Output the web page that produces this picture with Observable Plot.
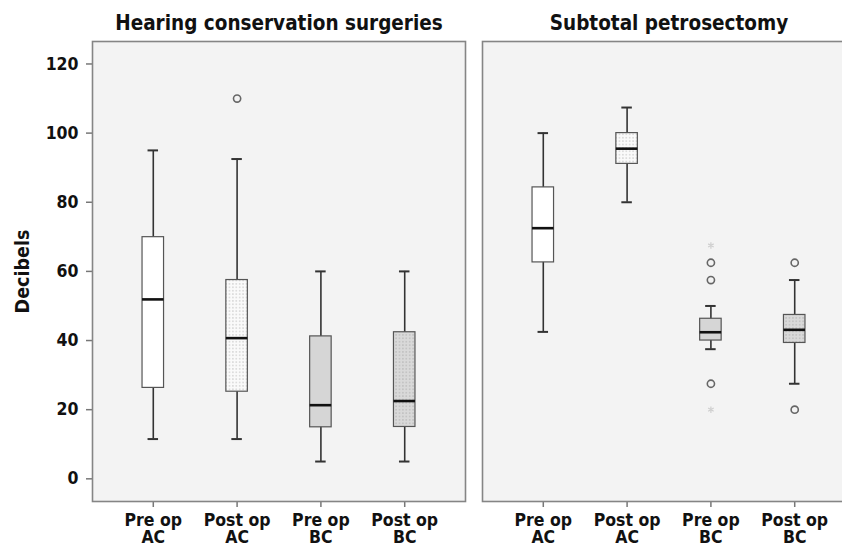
<!DOCTYPE html>
<html>
<head>
<meta charset="utf-8">
<script src="https://cdn.jsdelivr.net/npm/d3@7"></script>
<script src="https://cdn.jsdelivr.net/npm/@observablehq/plot@0.6"></script>
<style>
  html, body { margin: 0; padding: 0; background: #ffffff; overflow: hidden; }
  #wrap { width: 842px; height: 547px; overflow: hidden; }
  #wrap svg { max-width: none !important; }
</style>
</head>
<body>
<div id="wrap"></div>
<script>
// ---- data ----
const groups = ["Hearing conservation surgeries", "Subtotal petrosectomy"];
const categories = ["Pre op AC", "Post op AC", "Pre op BC", "Post op BC"];
// per group: values for each category (in order above)
const whiskerLow  = [[11.5, 11.5, 5, 5],        [42.5, 80, 37.5, 27.5]];
const quartile1   = [[26.3, 25.2, 14.9, 15],    [62.6, 91.1, 40, 39.3]];
const medians     = [[51.9, 40.7, 21.3, 22.5],  [72.5, 95.5, 42.4, 43.1]];
const quartile3   = [[69.9, 57.5, 41.2, 42.4],  [84.3, 100, 46.3, 47.4]];
const whiskerHigh = [[95, 92.5, 60, 60],        [100, 107.4, 50, 57.5]];
// outliers
const outlierGroup    = [0, 1, 1, 1, 1, 1, 1, 1];
const outlierCategory = [1, 2, 2, 2, 2, 2, 3, 3];
const outlierValue    = [110, 67.5, 62.5, 57.5, 27.5, 20, 62.5, 20];
const outlierKind     = ["circle", "star", "circle", "circle", "circle", "star", "circle", "circle"];
const yTicks = [0, 20, 40, 60, 80, 100, 120];
const yLabel = "Decibels";

// ---- build tables ----
const rows = [];
groups.forEach((g, gi) => categories.forEach((c, ci) => rows.push({
  group: g, category: c,
  lo: whiskerLow[gi][ci], q1: quartile1[gi][ci], med: medians[gi][ci],
  q3: quartile3[gi][ci], hi: whiskerHigh[gi][ci]
})));
const outliers = outlierValue.map((v, i) => ({
  group: groups[outlierGroup[i]], category: categories[outlierCategory[i]],
  value: v, kind: outlierKind[i]
}));

const boxFill = {
  "Pre op AC": "#ffffff",
  "Post op AC": "url(#dotsLight)",
  "Pre op BC": "#d6d6d6",
  "Post op BC": "url(#dotsGray)"
};

const font = "'DejaVu Sans Condensed', 'DejaVu Sans', sans-serif";

const boxMarks = categories.map(c => Plot.barY(rows.filter(d => d.category === c), {
  x: "category", y1: "q1", y2: "q3", fx: "group",
  fill: boxFill[c], stroke: "#555", strokeWidth: 1.2
}));

const plot = Plot.plot({
  width: 856,
  height: 547,
  marginLeft: 92,
  marginRight: 1,
  marginTop: 41,
  marginBottom: 46,
  style: { fontFamily: font, fontWeight: "bold", fontStretch: "condensed", color: "#111", background: "transparent", maxWidth: "none" },
  fx: { domain: groups, paddingInner: 17 / 390, paddingOuter: 0, label: null },
  x: { domain: categories, type: "band", paddingInner: 0.7434, paddingOuter: 0.597, round: false, label: null },
  y: { domain: [-6.56, 126.5], label: null },
  marks: [
    Plot.frame({ fill: "#f3f3f3" }),
    Plot.axisFx({ anchor: "top", tickSize: 0, tickPadding: 12, fontSize: 20.5, label: null }),
    Plot.axisY({ ticks: yTicks, tickSize: 6, tickPadding: 8, fontSize: 17.5, stroke: "#777", strokeWidth: 1.5, label: null }),
    Plot.axisX({ tickSize: 6, tickPadding: 6.3, fontSize: 17.5, lineHeight: 0.99, stroke: "#777", strokeWidth: 1.5, label: null,
                 tickFormat: d => d.replace(/ (AC|BC)$/, "\n$1") }),
    Plot.text([yLabel], { fx: [groups[0]], text: d => d, frameAnchor: "left", textAnchor: "middle", dx: -70, rotate: -90,
                          fontSize: 19.5, fontWeight: "bold", fill: "#111" }),
    Plot.ruleX(rows, { x: "category", y1: "lo", y2: "hi", fx: "group", stroke: "#333", strokeWidth: 1.6 }),
    Plot.tickY(rows, { x: "category", y: "lo", fx: "group", insetLeft: 5.5, insetRight: 5.5, stroke: "#333", strokeWidth: 2 }),
    Plot.tickY(rows, { x: "category", y: "hi", fx: "group", insetLeft: 5.5, insetRight: 5.5, stroke: "#333", strokeWidth: 2 }),
    ...boxMarks,
    Plot.tickY(rows, { x: "category", y: "med", fx: "group", stroke: "#111", strokeWidth: 2.6 }),
    Plot.dot(outliers.filter(d => d.kind === "circle"), { x: "category", y: "value", fx: "group", r: 3.6, stroke: "#666", strokeWidth: 1.6, fill: "none" }),
    Plot.dot(outliers.filter(d => d.kind === "star"), { x: "category", y: "value", fx: "group", symbol: "asterisk", r: 3, stroke: "#cfcfcf", strokeWidth: 1.2 }),
    Plot.frame({ stroke: "#858585", strokeWidth: 1.6 })
  ]
});

// patterns for the dotted boxes
const ns = "http://www.w3.org/2000/svg";
const defs = document.createElementNS(ns, "defs");
defs.innerHTML = `
  <pattern id="dotsLight" patternUnits="userSpaceOnUse" width="3.4" height="3.4">
    <rect width="3.4" height="3.4" fill="#fafafa"></rect>
    <circle cx="1.7" cy="1.7" r="0.55" fill="#a8a8a8"></circle>
  </pattern>
  <pattern id="dotsGray" patternUnits="userSpaceOnUse" width="3.4" height="3.4">
    <rect width="3.4" height="3.4" fill="#d9d9d9"></rect>
    <circle cx="1.7" cy="1.7" r="0.6" fill="#a0a0a0"></circle>
  </pattern>`;
const svgEl = plot.tagName.toLowerCase() === "svg" ? plot : plot.querySelector("svg");
svgEl.insertBefore(defs, svgEl.firstChild);

document.getElementById("wrap").appendChild(plot);
</script>
</body>
</html>
